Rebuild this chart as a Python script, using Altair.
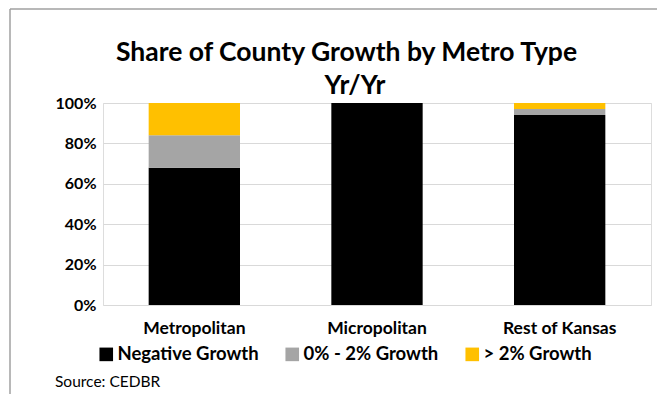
import altair as alt
import pandas as pd

categories = ["Metropolitan", "Micropolitan", "Rest of Kansas"]
series_names = ["Negative Growth", "0% - 2% Growth", "> 2% Growth"]
negative_growth = [0.68, 1.00, 0.94]
low_growth = [0.16, 0.00, 0.03]
high_growth = [0.16, 0.00, 0.03]
series_colors = ["#000000", "#a5a5a5", "#ffc000"]
title_lines = ["Share of County Growth by Metro Type", "Yr/Yr"]
source_note = ["Source: CEDBR"]

rows = []
for i, cat in enumerate(categories):
    for k, (name, vals) in enumerate(zip(series_names, [negative_growth, low_growth, high_growth])):
        rows.append({"category": cat, "series": name, "value": vals[i], "order": k})
df = pd.DataFrame(rows)

FONT = "Lato"

bars = alt.Chart(df).mark_bar().encode(
    x=alt.X("category:N", sort=categories, title=None,
            scale=alt.Scale(paddingInner=0.5, paddingOuter=0.25),
            axis=alt.Axis(labelAngle=0, ticks=False, tickSize=0, domain=False,
                          labelFont=FONT, labelFontSize=17.5, labelFontWeight="bold",
                          labelColor="#000000", labelPadding=14)),
    y=alt.Y("value:Q", stack="zero", title=None,
            scale=alt.Scale(domain=[0, 1]),
            axis=alt.Axis(format="%", values=[0, 0.2, 0.4, 0.6, 0.8, 1.0],
                          ticks=False, tickSize=0, domain=False,
                          grid=True, gridColor="#d9d9d9", gridWidth=1,
                          labelFont=FONT, labelFontSize=16, labelFontWeight="bold",
                          labelColor="#000000", labelPadding=7)),
    color=alt.Color("series:N",
                    scale=alt.Scale(domain=series_names, range=series_colors),
                    legend=alt.Legend(title=None, orient="none", direction="horizontal",
                                      legendX=-6, legendY=242,
                                      symbolType="square", symbolSize=185,
                                      symbolStrokeWidth=0, symbolOpacity=1,
                                      labelFont=FONT, labelFontSize=18.5,
                                      labelFontWeight="bold", labelColor="#000000",
                                      labelOffset=2, columnPadding=24)),
    order=alt.Order("order:Q", sort="ascending"),
)

frame_df = pd.DataFrame({"a": [0]})
left_line = alt.Chart(frame_df).mark_rule(color="#a0a0a0", strokeWidth=1.5).encode(
    x=alt.value(-93), y=alt.value(-94), y2=alt.value(300)
)
top_line = alt.Chart(frame_df).mark_rule(color="#a0a0a0", strokeWidth=1.5).encode(
    x=alt.value(-93), x2=alt.value(560), y=alt.value(-94)
)

t1 = alt.Chart(pd.DataFrame({"t": [title_lines[0]]})).mark_text(
    font=FONT, fontSize=26.5, fontWeight="bold", color="#000000",
    align="center", baseline="alphabetic"
).encode(text="t:N", x=alt.value(243.5), y=alt.value(-42))

t2 = alt.Chart(pd.DataFrame({"t": [title_lines[1]]})).mark_text(
    font=FONT, fontSize=26.5, fontWeight="bold", color="#000000",
    align="center", baseline="alphabetic"
).encode(text="t:N", x=alt.value(252), y=alt.value(-9))

src = alt.Chart(pd.DataFrame({"t": source_note})).mark_text(
    font=FONT, fontSize=15.5, color="#000000",
    align="left", baseline="alphabetic"
).encode(text="t:N", x=alt.value(-48), y=alt.value(284))

chart = alt.layer(bars, left_line, top_line, t1, t2, src).properties(
    width=548, height=202,
    padding={"left": 95, "top": 95, "right": 6, "bottom": 89},
    autosize=alt.AutoSizeParams(type="none"),
).configure_view(stroke=None).configure(background="#ffffff")

chart.save("out.html", embed_options={"renderer": "svg", "actions": False})
